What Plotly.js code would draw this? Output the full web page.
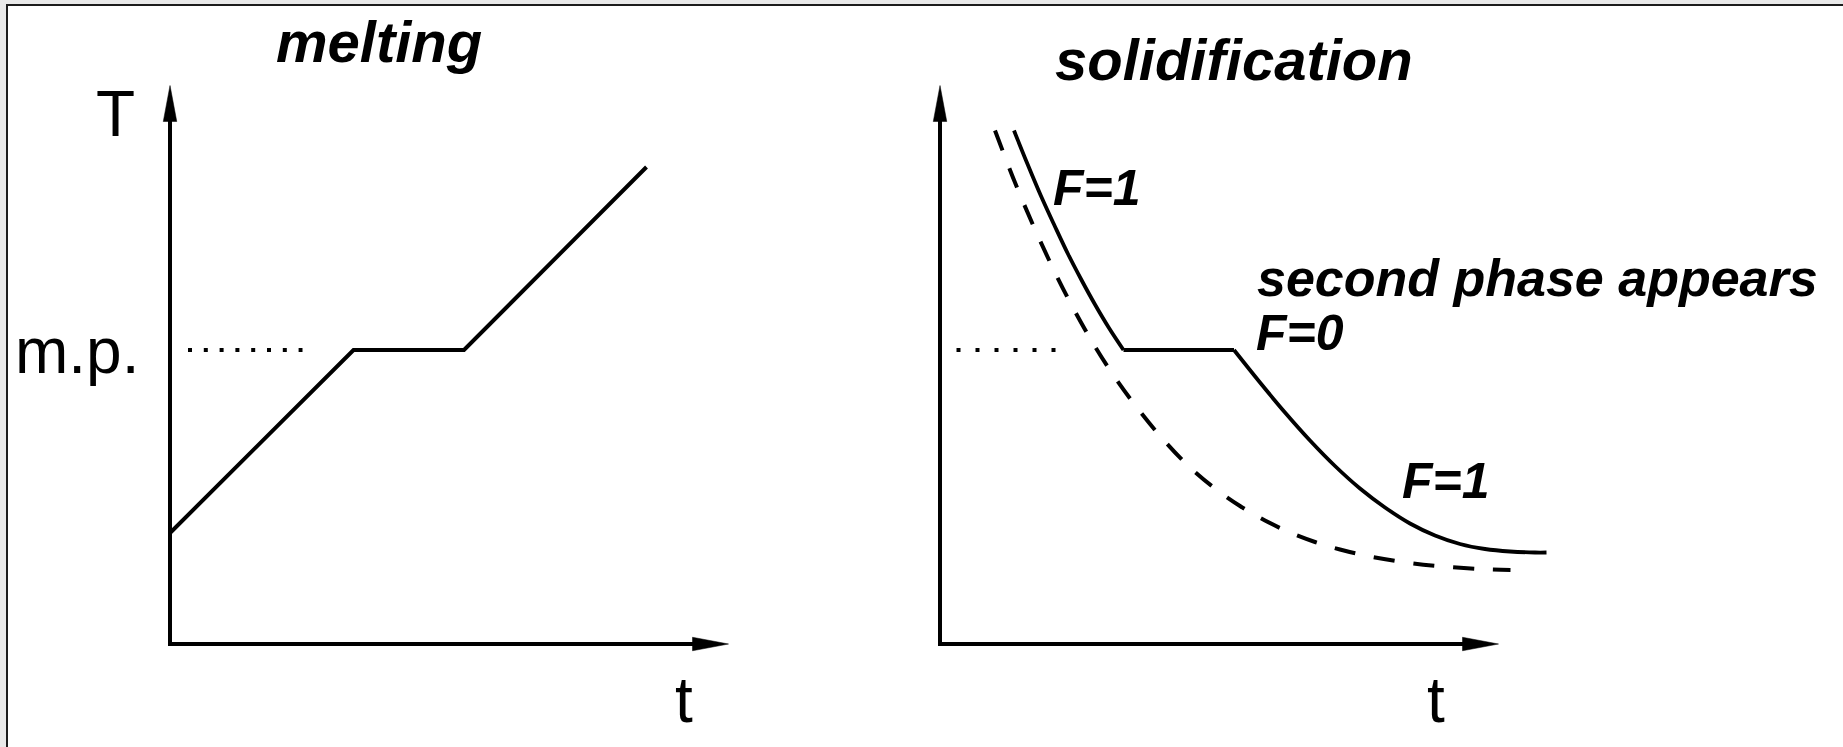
<!DOCTYPE html>
<html>
<head>
<meta charset="utf-8">
<script src="https://cdn.plot.ly/plotly-3.0.1.min.js"></script>
<style>
html,body{margin:0;padding:0;background:#e9e9e9;width:1843px;height:747px;overflow:hidden}
#frame{position:absolute;left:6px;top:4px;width:1837px;height:743px;border-left:2px solid #1c1c1c;border-top:2px solid #1c1c1c;background:#fff;box-sizing:border-box}
#chart{position:absolute;left:0;top:0;width:1835px;height:741px}
</style>
</head>
<body>
<div id="frame"><div id="chart"></div></div>
<script>
// ---------- data (schematic units) ----------
// melting curve: heating, plateau at m.p., heating
const meltTime = [0, 3.67, 5.88, 9.53];
const meltTemp = [2.22, 5.88, 5.88, 9.54];
const meltPoint = 5.88;
const meltGuideTime = [0.36, 2.65];   // dotted m.p. guide, left panel
const solidGuideTime = [0.33, 2.31];  // dotted m.p. guide, right panel

// solidification: liquid cooling (F=1), plateau (F=0), solid cooling (F=1)
const coolLiquidTime = [1.48, 1.75, 2.02, 2.29, 2.56, 2.83, 3.10, 3.38, 3.67];
const coolLiquidTemp = [10.27, 9.60, 8.96, 8.37, 7.80, 7.28, 6.79, 6.32, 5.88];
const plateauTime = [3.67, 5.88];
const plateauTemp = [5.88, 5.88];
const coolSolidTime = [5.88, 6.40, 6.90, 7.40, 7.90, 8.40, 8.90, 9.40, 9.90, 10.40, 10.90, 11.40, 11.90, 12.13];
const coolSolidTemp = [5.88, 5.23, 4.63, 4.07, 3.56, 3.11, 2.73, 2.41, 2.17, 2.00, 1.90, 1.85, 1.83, 1.83];

// dashed reference cooling curve (no phase change)
const refTime = [1.10, 1.50, 1.90, 2.30, 2.70, 3.10, 3.50, 4.00, 4.50, 5.00, 5.50, 6.00, 6.50, 7.00, 7.50, 8.00, 8.60, 9.40, 10.20, 11.00, 11.41];
const refTemp = [10.27, 9.23, 8.29, 7.43, 6.65, 5.95, 5.33, 4.65, 4.05, 3.53, 3.11, 2.76, 2.47, 2.23, 2.04, 1.89, 1.75, 1.62, 1.54, 1.49, 1.48];

// labels
const panelTitles = ['melting', 'solidification'];
const axisLabelT = 'T';
const axisLabelt = 't';
const mpLabel = 'm.p.';
const phaseLabels = ['F=1', 'second phase appears', 'F=0', 'F=1'];

// ---------- layout geometry ----------
const W = 1835, H = 741;
const PX = 50;                 // pixels per unit
const originLeftX = 162, originRightX = 932, originY = 638;
const AXIS_LEN = 11.17, HEAD_LEN = 0.72, HEAD_HALF = 0.135;
const FONT = 'Liberation Sans, Arial, Helvetica, sans-serif';

function xRange(origin, d0, d1){ return [(d0*W - origin)/PX, (d1*W - origin)/PX]; }
const yRange = [(originY - H)/PX, originY/PX];

const black = '#000';
const traces = [
  {x: meltTime, y: meltTemp, xaxis:'x', yaxis:'y', mode:'lines', line:{color:black, width:4}},
  {x: meltGuideTime, y: meltGuideTime.map(()=>meltPoint), xaxis:'x', yaxis:'y', mode:'lines', line:{color:black, width:4, dash:'4px,11.8px'}},
  {x: solidGuideTime, y: solidGuideTime.map(()=>meltPoint), xaxis:'x2', yaxis:'y2', mode:'lines', line:{color:black, width:4, dash:'4px,15px'}},
  {x: refTime, y: refTemp, xaxis:'x2', yaxis:'y2', mode:'lines', line:{color:black, width:4, shape:'spline', dash:'21px,19px'}},
  {x: coolLiquidTime, y: coolLiquidTemp, xaxis:'x2', yaxis:'y2', mode:'lines', line:{color:black, width:3.8, shape:'spline'}},
  {x: plateauTime, y: plateauTemp, xaxis:'x2', yaxis:'y2', mode:'lines', line:{color:black, width:3.8}},
  {x: coolSolidTime, y: coolSolidTemp, xaxis:'x2', yaxis:'y2', mode:'lines', line:{color:black, width:3.8, shape:'spline'}}
];

function axisShapes(xa, ya){
  const L = AXIS_LEN, h = HEAD_LEN, w = HEAD_HALF;
  return [
    {type:'line', xref:xa, yref:ya, x0:0, y0:-0.04, x1:0, y1:L-h+0.05, line:{color:black, width:4}},
    {type:'path', xref:xa, yref:ya, path:`M0,${L} L${-w},${L-h} L${w},${L-h} Z`, fillcolor:black, line:{color:black, width:0.5}},
    {type:'line', xref:xa, yref:ya, x0:-0.04, y0:0, x1:L-h+0.05, y1:0, line:{color:black, width:4}},
    {type:'path', xref:xa, yref:ya, path:`M${L},0 L${L-h},${w} L${L-h},${-w} Z`, fillcolor:black, line:{color:black, width:0.5}}
  ];
}

function ann(text, xa, ya, x, y, size, bi){
  return {text: bi ? '<b><i>'+text+'</i></b>' : text, xref:xa, yref:ya, x:x, y:y,
          xanchor:'center', yanchor:'middle', showarrow:false,
          font:{family:FONT, size:size, color:black}};
}

const annotations = [
  ann(panelTitles[0], 'x', 'y', 4.18, 12.06, 58, true),
  ann(axisLabelT, 'x', 'y', -1.09, 10.60, 64, false),
  ann(mpLabel, 'x', 'y', -1.86, 5.86, 64, false),
  ann(axisLabelt, 'x', 'y', 10.28, -1.12, 64, false),
  ann(panelTitles[1], 'x2', 'y2', 5.88, 11.70, 58, true),
  ann(axisLabelT, 'x2', 'y2', -1.04, 10.60, 64, false),
  ann(axisLabelt, 'x2', 'y2', 9.91, -1.12, 64, false),
  ann(phaseLabels[0], 'x2', 'y2', 3.13, 9.13, 50, true),
  ann(phaseLabels[1], 'x2', 'y2', 11.95, 7.32, 52, true),
  ann(phaseLabels[2], 'x2', 'y2', 7.20, 6.23, 50, true),
  ann(phaseLabels[3], 'x2', 'y2', 10.12, 3.27, 50, true)
];

const hidden = {visible:false, fixedrange:true, showgrid:false, zeroline:false};
const layout = {
  width: W, height: H,
  margin:{l:0, r:0, t:0, b:0, pad:0},
  paper_bgcolor:'rgba(0,0,0,0)', plot_bgcolor:'rgba(0,0,0,0)',
  showlegend:false, hovermode:false,
  xaxis: Object.assign({}, hidden, {domain:[0,0.5], range:xRange(originLeftX,0,0.5)}),
  yaxis: Object.assign({}, hidden, {domain:[0,1], range:yRange}),
  xaxis2: Object.assign({}, hidden, {domain:[0.5,1], range:xRange(originRightX,0.5,1)}),
  yaxis2: Object.assign({}, hidden, {domain:[0,1], range:yRange, anchor:'x2'}),
  shapes: axisShapes('x','y').concat(axisShapes('x2','y2')),
  annotations: annotations
};

Plotly.newPlot('chart', traces, layout, {displayModeBar:false, staticPlot:true});
</script>
</body>
</html>
